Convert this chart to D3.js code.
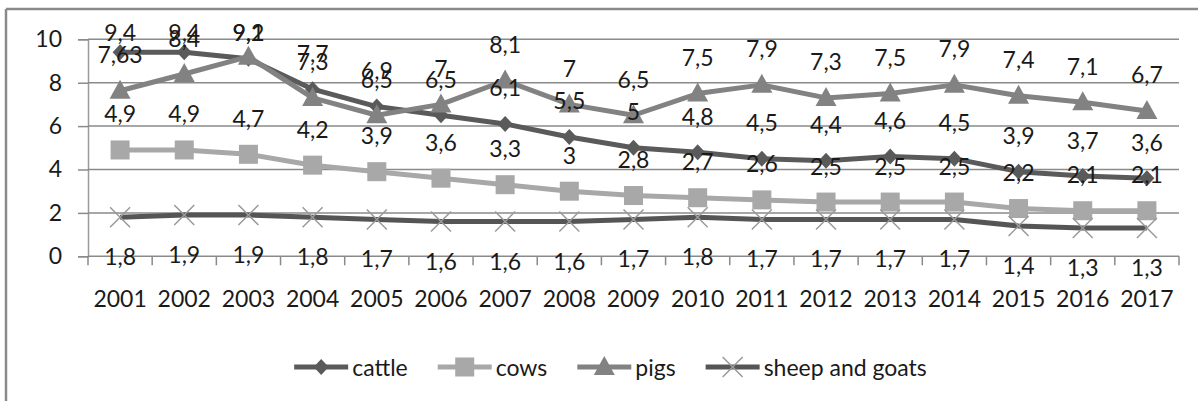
<!DOCTYPE html>
<html><head><meta charset="utf-8">
<script src="https://cdn.jsdelivr.net/npm/d3@7"></script>
<style>
html,body{margin:0;padding:0;background:#fff;}
text{font-family:Lato,"Open Sans",sans-serif;fill:#1a1a1a;}
</style></head>
<body><svg id="chart" width="1198" height="401"></svg>
<script>
const years = ["2001","2002","2003","2004","2005","2006","2007","2008","2009","2010","2011","2012","2013","2014","2015","2016","2017"];
const cattle = [9.4,9.4,9.1,7.7,6.9,6.5,6.1,5.5,5,4.8,4.5,4.4,4.6,4.5,3.9,3.7,3.6];
const cows = [4.9,4.9,4.7,4.2,3.9,3.6,3.3,3,2.8,2.7,2.6,2.5,2.5,2.5,2.2,2.1,2.1];
const pigs = [7.63,8.4,9.2,7.3,6.5,7,8.1,7,6.5,7.5,7.9,7.3,7.5,7.9,7.4,7.1,6.7];
const sheepGoats = [1.8,1.9,1.9,1.8,1.7,1.6,1.6,1.6,1.7,1.8,1.7,1.7,1.7,1.7,1.4,1.3,1.3];
const yTicks = [0,2,4,6,8,10];
const seriesNames = ["cattle","cows","pigs","sheep and goats"];

const series = [
  {name: seriesNames[0], values: cattle, line:"#5a5a5a", fill:"#5a5a5a", marker:"diamond", pos:"above"},
  {name: seriesNames[1], values: cows, line:"#a8a8a8", fill:"#a8a8a8", marker:"square", pos:"above"},
  {name: seriesNames[2], values: pigs, line:"#828282", fill:"#828282", marker:"triangle", pos:"above"},
  {name: seriesNames[3], values: sheepGoats, line:"#555555", fill:"#9a9a9a", marker:"cross", pos:"below"}
];

const svg = d3.select("#chart");
const FS = 23;
const plot = {left: 88, right: 1179, top: 39.3, bottom: 256.3};

// frame
svg.append("line").attr("x1",6).attr("x2",1198).attr("y1",9).attr("y2",9).attr("stroke","#8a8a8a").attr("stroke-width",2.5);
svg.append("line").attr("x1",6).attr("x2",6).attr("y1",9).attr("y2",401).attr("stroke","#8a8a8a").attr("stroke-width",2.5);

const x = d3.scaleBand().domain(years).range([plot.left, plot.right]).padding(0);
const y = d3.scaleLinear().domain([0,10]).range([plot.bottom, plot.top]);
const cx = d => x(d) + x.bandwidth()/2;

// gridlines + y axis
const yAxis = d3.axisLeft(y).tickValues(yTicks).tickSize(10).tickPadding(16).tickFormat(d3.format("d"));
const gy = svg.append("g").attr("transform",`translate(${plot.left},0)`).call(yAxis);
gy.select(".domain").attr("stroke","#9a9a9a").attr("stroke-width",1.5);
gy.selectAll(".tick line").attr("stroke","#8a8a8a").attr("stroke-width",1.5);
gy.selectAll(".tick text").style("font-size",FS+"px").style("font-family","Lato").attr("fill","#1a1a1a");
svg.append("g").selectAll("line.grid").data(yTicks.filter(t=>t>0)).join("line")
  .attr("x1",plot.left).attr("x2",plot.right).attr("y1",d=>y(d)).attr("y2",d=>y(d))
  .attr("stroke","#8a8a8a").attr("stroke-width",1.5);

// x axis
const xAxis = d3.axisBottom(x).tickSize(0).tickPadding(34);
const gx = svg.append("g").attr("transform",`translate(0,${plot.bottom})`).call(xAxis);
gx.select(".domain").remove();
gx.selectAll(".tick text").style("font-size",FS+"px").style("font-family","Lato").attr("fill","#1a1a1a");
svg.append("line").attr("x1",plot.left).attr("x2",plot.right).attr("y1",plot.bottom).attr("y2",plot.bottom).attr("stroke","#8a8a8a").attr("stroke-width",1.5);
const bounds = years.map(d=>x(d)).concat([plot.right]);
svg.append("g").selectAll("line").data(bounds).join("line")
  .attr("x1",d=>d).attr("x2",d=>d).attr("y1",plot.bottom).attr("y2",plot.bottom+9)
  .attr("stroke","#8a8a8a").attr("stroke-width",1.5);

function drawMarker(g, type, px, py, s) {
  if (type==="diamond") {
    g.append("path").attr("d",`M${px},${py-8}L${px+7.5},${py}L${px},${py+8}L${px-7.5},${py}Z`).attr("fill",s.fill);
  } else if (type==="square") {
    g.append("rect").attr("x",px-9.5).attr("y",py-9.5).attr("width",19).attr("height",19).attr("fill",s.fill);
  } else if (type==="triangle") {
    g.append("path").attr("d",`M${px},${py-11}L${px+10.5},${py+8}L${px-10.5},${py+8}Z`).attr("fill",s.fill);
  } else if (type==="cross") {
    g.append("path").attr("d",`M${px-10},${py-10}L${px+10},${py+10}M${px+10},${py-10}L${px-10},${py+10}`)
      .attr("stroke",s.fill).attr("stroke-width",1.5).attr("fill","none");
  }
}

const line = d3.line().x(d=>cx(d[0])).y(d=>y(d[1]));
series.forEach(s => {
  const g = svg.append("g");
  const pts = years.map((yr,i)=>[yr, s.values[i]]);
  g.append("path").attr("d",line(pts)).attr("fill","none").attr("stroke",s.line).attr("stroke-width",5).attr("stroke-linejoin","round");
  pts.forEach(p => drawMarker(g, s.marker, cx(p[0]), y(p[1]), s));
});

// data labels
const fmt = v => String(v).replace(".", ",");
series.forEach(s => {
  svg.append("g").selectAll("text").data(years.map((yr,i)=>[yr,s.values[i]])).join("text")
    .attr("x",d=>cx(d[0]))
    .attr("y",d=> s.pos==="above" ? Math.max(32, y(d[1])-36.5) : y(d[1])+39)
    .attr("text-anchor","middle").attr("dominant-baseline","central")
    .style("font-size",FS+"px").text(d=>fmt(d[1]));
});

// legend
const lg = svg.append("g");
const items = [];
let cursor = 0;
series.forEach(s => {
  const t = lg.append("text").style("font-size",FS+"px").attr("dominant-baseline","central").text(s.name);
  const w = t.node().getComputedTextLength();
  items.push({s, t, start: cursor, w});
  cursor += 54 + 4 + w + 30;
});
const total = cursor - 30;
const lx0 = 610.5 - total/2;
const ly = 367;
items.forEach(it => {
  const x0 = lx0 + it.start;
  lg.append("line").attr("x1",x0).attr("x2",x0+54).attr("y1",ly).attr("y2",ly).attr("stroke",it.s.line).attr("stroke-width",5);
  drawMarker(lg, it.s.marker, x0+27, ly, it.s);
  it.t.attr("x", x0+58).attr("y", ly);
});
</script></body></html>
